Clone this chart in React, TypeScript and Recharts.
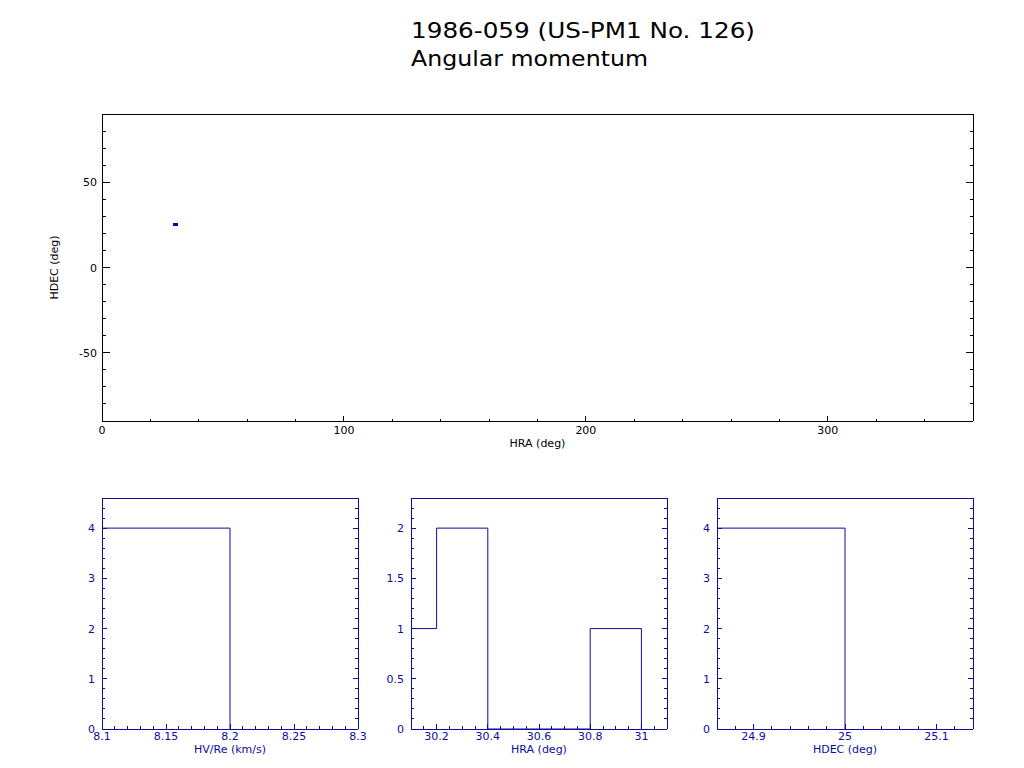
import React from 'react';
import { ScatterChart, Scatter, XAxis, YAxis, ComposedChart, Line } from 'recharts';

// ---------- Text ----------
const TITLE_LINE1 = '1986-059 (US-PM1 No. 126)';
const TITLE_LINE2 = 'Angular momentum';

// ---------- Top scatter: HRA vs HDEC ----------
const hraValues = [30.15, 30.25, 30.35, 30.9];
const hdecValues = [24.95, 24.95, 24.95, 24.95];
const topXLabel = 'HRA (deg)';
const topYLabel = 'HDEC (deg)';
const topXDomain = [0, 360];
const topYDomain = [-90, 90];
const topXMajors = [0, 100, 200, 300];
const topYMajors = [-50, 0, 50];

// ---------- Histogram 1: HV/Re ----------
const hvEdges = [8.1, 8.2];
const hvCounts = [4];
const hvXDomain = [8.1, 8.3];
const hvXMajors = [8.1, 8.15, 8.2, 8.25, 8.3];
const hvYDomain = [0, 4.6];
const hvYMajors = [0, 1, 2, 3, 4];
const hvLabel = 'HV/Re (km/s)';

// ---------- Histogram 2: HRA ----------
const hraEdges = [30.0, 30.2, 30.4, 30.6, 30.8, 31.0];
const hraCounts = [1, 2, 0, 0, 1];
const hraXDomain = [30.1, 31.1];
const hraXMajors = [30.2, 30.4, 30.6, 30.8, 31];
const hraYDomain = [0, 2.3];
const hraYMajors = [0, 0.5, 1, 1.5, 2];
const hraLabel = 'HRA (deg)';

// ---------- Histogram 3: HDEC ----------
const hdecEdges = [24.8, 25.0];
const hdecCounts = [4];
const hdecXDomain = [24.86, 25.14];
const hdecXMajors = [24.9, 25, 25.1];
const hdecYDomain = [0, 4.6];
const hdecYMajors = [0, 1, 2, 3, 4];
const hdecLabel = 'HDEC (deg)';

const BLACK = '#000000';
const NAVY = '#0c0c9e';
const POINT = '#0000cc';
const FONT = '"DejaVu Sans", sans-serif';

function range(start: number, end: number, step: number): number[] {
  const out: number[] = [];
  const n = Math.round((end - start) / step);
  for (let i = 0; i <= n; i++) out.push(+(start + i * step).toFixed(6));
  return out;
}

const fmt = (v: number) => String(+v.toFixed(4));

type Side = 'bottom' | 'top' | 'left' | 'right';

function makeTick(
  side: Side,
  majors: number[],
  color: string,
  majorLen: number,
  minorLen: number,
  showLabels: boolean,
  labelGap: number
) {
  return (props: any) => {
    const { x, y, payload } = props;
    const v = payload.value as number;
    const isMajor = majors.some((m) => Math.abs(m - v) < 1e-6);
    const len = isMajor ? majorLen : minorLen;
    let x2 = x;
    let y2 = y;
    if (side === 'bottom') y2 = y - len;
    if (side === 'top') y2 = y + len;
    if (side === 'left') x2 = x + len;
    if (side === 'right') x2 = x - len;
    let label: React.ReactNode = null;
    if (showLabels && isMajor) {
      if (side === 'bottom') {
        label = (
          <text x={x} y={y + labelGap} textAnchor="middle" fill={color} fontSize={11} fontFamily={FONT}>
            {fmt(v)}
          </text>
        );
      } else if (side === 'left') {
        label = (
          <text x={x - labelGap} y={y + 4} textAnchor="end" fill={color} fontSize={11} fontFamily={FONT}>
            {fmt(v)}
          </text>
        );
      }
    }
    return (
      <g>
        <line x1={x} y1={y} x2={x2} y2={y2} stroke={color} strokeWidth={1} shapeRendering="crispEdges" />
        {label}
      </g>
    );
  };
}

function xTitle(text: string, color: string, dy: number) {
  return (p: any) => {
    const vb = p.viewBox || { x: 0, y: 0, width: 0, height: 0 };
    return (
      <text x={vb.x + vb.width / 2} y={vb.y + dy} textAnchor="middle" fill={color} fontSize={11} fontFamily={FONT}>
        {text}
      </text>
    );
  };
}

function yTitle(text: string, color: string, dx: number) {
  return (p: any) => {
    const vb = p.viewBox || { x: 0, y: 0, width: 0, height: 0 };
    const cx = vb.x + vb.width - dx;
    const cy = vb.y + vb.height / 2;
    return (
      <text
        x={cx}
        y={cy}
        textAnchor="middle"
        fill={color}
        fontSize={11}
        fontFamily={FONT}
        transform={`rotate(-90 ${cx} ${cy})`}
      >
        {text}
      </text>
    );
  };
}

const axisLine = (color: string) => ({ stroke: color, strokeWidth: 1, shapeRendering: 'crispEdges' });

function TopChart() {
  const points = hraValues.map((h, i) => ({ hra: h, hdec: hdecValues[i] }));
  const xTicks = range(0, 360, 20);
  const yTicks = range(-90, 90, 10);
  return (
    <div style={{ position: 'absolute', left: 0, top: 0 }}>
      <ScatterChart width={1024} height={470} margin={{ top: 113, left: 101, right: 50, bottom: 48 }}>
        <XAxis
          xAxisId="b"
          type="number"
          dataKey="hra"
          orientation="bottom"
          domain={topXDomain}
          ticks={xTicks}
          interval={0}
          allowDataOverflow
          height={1}
          tickSize={0}
          tickMargin={0}
          axisLine={axisLine(BLACK)}
          tick={makeTick('bottom', topXMajors, BLACK, 5, 2.5, true, 13)}
          label={xTitle(topXLabel, BLACK, 26)}
        />
        <XAxis
          xAxisId="t"
          type="number"
          orientation="top"
          domain={topXDomain}
          ticks={xTicks}
          interval={0}
          allowDataOverflow
          height={1}
          tickSize={0}
          tickMargin={0}
          axisLine={axisLine(BLACK)}
          tick={makeTick('top', topXMajors, BLACK, 5, 2.5, false, 0)}
        />
        <YAxis
          yAxisId="l"
          type="number"
          dataKey="hdec"
          orientation="left"
          domain={topYDomain}
          ticks={yTicks}
          interval={0}
          allowDataOverflow
          width={1}
          tickSize={0}
          tickMargin={0}
          axisLine={axisLine(BLACK)}
          tick={makeTick('left', topYMajors, BLACK, 8, 4, true, 5)}
          label={yTitle(topYLabel, BLACK, 44)}
        />
        <YAxis
          yAxisId="r"
          type="number"
          orientation="right"
          domain={topYDomain}
          ticks={yTicks}
          interval={0}
          allowDataOverflow
          width={1}
          tickSize={0}
          tickMargin={0}
          axisLine={axisLine(BLACK)}
          tick={makeTick('right', topYMajors, BLACK, 7, 3, false, 0)}
        />
        <Scatter
          xAxisId="b"
          yAxisId="l"
          data={points}
          isAnimationActive={false}
          shape={(p: any) => (
            <rect x={p.cx - 1.5} y={p.cy - 1.5} width={3} height={3} fill={POINT} shapeRendering="crispEdges" />
          )}
        />
      </ScatterChart>
    </div>
  );
}

type PanelProps = {
  plotLeft: number;
  edges: number[];
  counts: number[];
  xDomain: number[];
  xTicks: number[];
  xMajors: number[];
  yDomain: number[];
  yTicks: number[];
  yMajors: number[];
  xLabel: string;
};

function HistPanel(props: PanelProps) {
  const { plotLeft, edges, counts, xDomain, xTicks, xMajors, yDomain, yTicks, yMajors, xLabel } = props;
  const data = edges.map((e, i) => ({ x: e, y: i < counts.length ? counts[i] : 0 }));
  const padL = 60;
  const padR = 30;
  const W = 256 + padL + padR;
  const H = 298;
  return (
    <div style={{ position: 'absolute', left: plotLeft - padL, top: 470 }}>
      <ComposedChart width={W} height={H} data={data} margin={{ top: 27, left: padL - 1, right: padR - 1, bottom: 38 }}>
        <XAxis
          xAxisId="b"
          type="number"
          dataKey="x"
          orientation="bottom"
          domain={xDomain}
          ticks={xTicks}
          interval={0}
          allowDataOverflow
          height={1}
          tickSize={0}
          tickMargin={0}
          axisLine={axisLine(NAVY)}
          tick={makeTick('bottom', xMajors, NAVY, 5, 3, true, 11)}
          label={xTitle(xLabel, NAVY, 24)}
        />
        <XAxis
          xAxisId="t"
          type="number"
          orientation="top"
          domain={xDomain}
          ticks={xTicks}
          interval={0}
          allowDataOverflow
          height={1}
          tickSize={0}
          tickMargin={0}
          axisLine={axisLine(NAVY)}
          tick={makeTick('top', xMajors, NAVY, 5, 3, false, 0)}
        />
        <YAxis
          yAxisId="l"
          type="number"
          orientation="left"
          domain={yDomain}
          ticks={yTicks}
          interval={0}
          allowDataOverflow
          width={1}
          tickSize={0}
          tickMargin={0}
          axisLine={axisLine(NAVY)}
          tick={makeTick('left', yMajors, NAVY, 5, 3, true, 7)}
        />
        <YAxis
          yAxisId="r"
          type="number"
          orientation="right"
          domain={yDomain}
          ticks={yTicks}
          interval={0}
          allowDataOverflow
          width={1}
          tickSize={0}
          tickMargin={0}
          axisLine={axisLine(NAVY)}
          tick={makeTick('right', yMajors, NAVY, 5, 3, false, 0)}
        />
        <Line
          xAxisId="b"
          yAxisId="l"
          type="stepAfter"
          dataKey="y"
          stroke={NAVY}
          strokeWidth={1}
          dot={false}
          activeDot={false}
          isAnimationActive={false}
        />
      </ComposedChart>
    </div>
  );
}

export default function App() {
  return (
    <div
      style={{
        position: 'absolute',
        left: 0,
        top: 0,
        width: 1024,
        height: 768,
        background: '#ffffff',
        overflow: 'hidden',
      }}
    >
      <svg width={1024} height={90} style={{ position: 'absolute', left: 0, top: 0 }}>
        <text x={411} y={38} fontSize={22} fontFamily={FONT} fill={BLACK} textLength={344} lengthAdjust="spacingAndGlyphs">
          {TITLE_LINE1}
        </text>
        <text x={411} y={66} fontSize={22} fontFamily={FONT} fill={BLACK} textLength={237} lengthAdjust="spacingAndGlyphs">
          {TITLE_LINE2}
        </text>
      </svg>
      <TopChart />
      <HistPanel
        plotLeft={102}
        edges={hvEdges}
        counts={hvCounts}
        xDomain={hvXDomain}
        xTicks={range(8.1, 8.3, 0.01)}
        xMajors={hvXMajors}
        yDomain={hvYDomain}
        yTicks={range(0, 4.6, 0.2)}
        yMajors={hvYMajors}
        xLabel={hvLabel}
      />
      <HistPanel
        plotLeft={411}
        edges={hraEdges}
        counts={hraCounts}
        xDomain={hraXDomain}
        xTicks={range(30.1, 31.1, 0.05)}
        xMajors={hraXMajors}
        yDomain={hraYDomain}
        yTicks={range(0, 2.3, 0.1)}
        yMajors={hraYMajors}
        xLabel={hraLabel}
      />
      <HistPanel
        plotLeft={717}
        edges={hdecEdges}
        counts={hdecCounts}
        xDomain={hdecXDomain}
        xTicks={range(24.88, 25.14, 0.02)}
        xMajors={hdecXMajors}
        yDomain={hdecYDomain}
        yTicks={range(0, 4.6, 0.2)}
        yMajors={hdecYMajors}
        xLabel={hdecLabel}
      />
    </div>
  );
}
